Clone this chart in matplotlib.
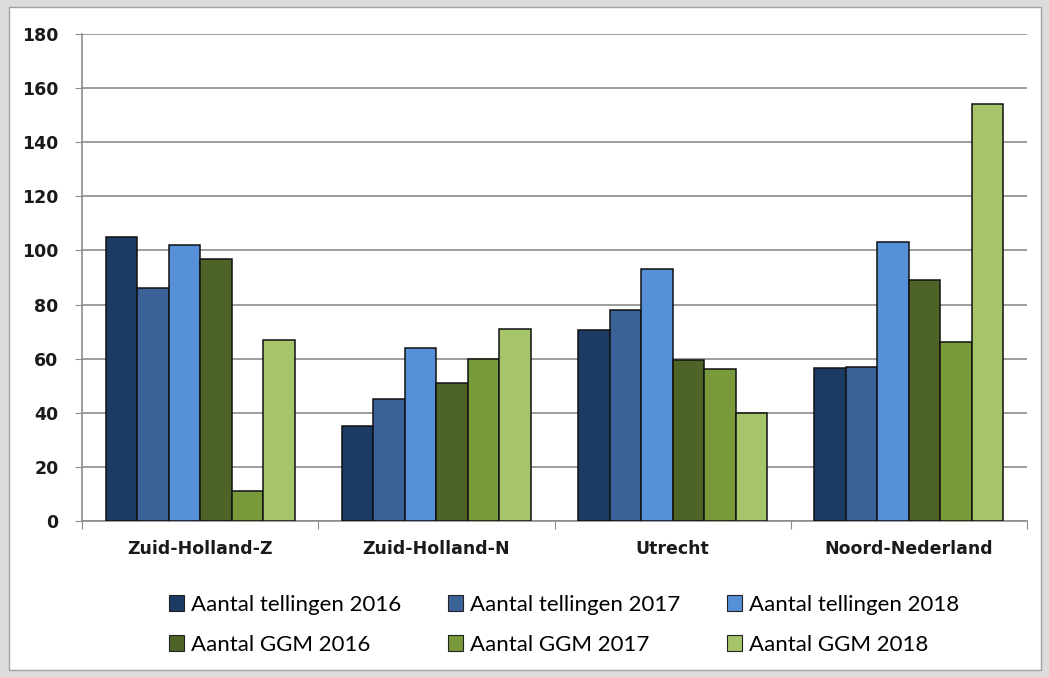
import numpy as np
import matplotlib.pyplot as plt
from matplotlib.patches import Rectangle, Patch

# data
regions = ['Zuid-Holland-Z', 'Zuid-Holland-N', 'Utrecht', 'Noord-Nederland']
tellingen_2016 = [105, 35, 70.5, 56.5]
tellingen_2017 = [86, 45, 78, 57]
tellingen_2018 = [102, 64, 93, 103]
ggm_2016 = [97, 51, 59.5, 89]
ggm_2017 = [11, 60, 56, 66]
ggm_2018 = [67, 71, 40, 154]

series = [tellingen_2016, tellingen_2017, tellingen_2018, ggm_2016, ggm_2017, ggm_2018]
labels = ['Aantal tellingen 2016', 'Aantal tellingen 2017', 'Aantal tellingen 2018',
          'Aantal GGM 2016', 'Aantal GGM 2017', 'Aantal GGM 2018']
colors = ['#1b3a64', '#3a6299', '#5590d8', '#4e6326', '#789a3a', '#a6c46a']

fig = plt.figure(figsize=(10.49, 6.77), dpi=100)
fig.patch.set_facecolor('#dcdcdc')
# white chart panel
fig.patches.append(Rectangle((9 / 1049, 7 / 677), 1032 / 1049, 663 / 677,
                             transform=fig.transFigure, facecolor='white',
                             edgecolor='#a0a0a0', linewidth=1, zorder=-10))

ax = fig.add_axes([82 / 1049, 1 - 521 / 677, (1027 - 82) / 1049, (521 - 34) / 677])
ax.set_facecolor('none')

x = np.arange(len(regions))
w = 0.1333
for i, vals in enumerate(series):
    ax.bar(x + (i - 2.5) * w, vals, width=w, color=colors[i],
           edgecolor='#111111', linewidth=1.1, zorder=3, label=labels[i])

ax.set_xlim(-0.5, len(regions) - 0.5)
ax.set_ylim(0, 180)
ax.set_yticks(np.arange(0, 181, 20))
ax.grid(axis='y', color='#8c8c8c', linewidth=1.2, zorder=0)
ax.set_axisbelow(True)

# category ticks at boundaries, labels centered
ax.set_xticks(np.arange(-0.5, len(regions)), minor=False)
ax.set_xticklabels([])
ax.set_xticks(x, minor=True)
ax.set_xticklabels(regions, minor=True, fontsize=12.5, fontweight='semibold',
                   family='DejaVu Sans', color='#1a1a1a')
ax.tick_params(axis='x', which='minor', length=0, pad=14)
ax.tick_params(axis='x', which='major', length=6, color='#8c8c8c', direction='out')
ax.tick_params(axis='y', length=5, color='#8c8c8c', pad=12)
for t in ax.get_yticklabels():
    t.set_fontsize(12.5)
    t.set_fontweight('bold')
    t.set_color('#1a1a1a')

for s in ['top', 'right']:
    ax.spines[s].set_visible(False)
ax.spines['left'].set_color('#8c8c8c')
ax.spines['bottom'].set_color('#8c8c8c')
ax.spines['left'].set_linewidth(1.2)
ax.spines['bottom'].set_linewidth(1.2)

# legend, row-wise order
order = [0, 3, 1, 4, 2, 5]
lh = [Patch(facecolor=colors[i], edgecolor='#222222', linewidth=0.8) for i in order]
ll = [labels[i] for i in order]
leg = fig.legend(lh, ll, ncol=3, loc='center', bbox_to_anchor=(564 / 1049, 1 - 625 / 677),
                 frameon=False, prop={'family': 'Lato', 'size': 16},
                 handlelength=0.7, handleheight=0.7, handletextpad=0.3,
                 columnspacing=2.1, labelspacing=0.9)

fig.savefig('out.png', dpi=100, facecolor=fig.get_facecolor())
